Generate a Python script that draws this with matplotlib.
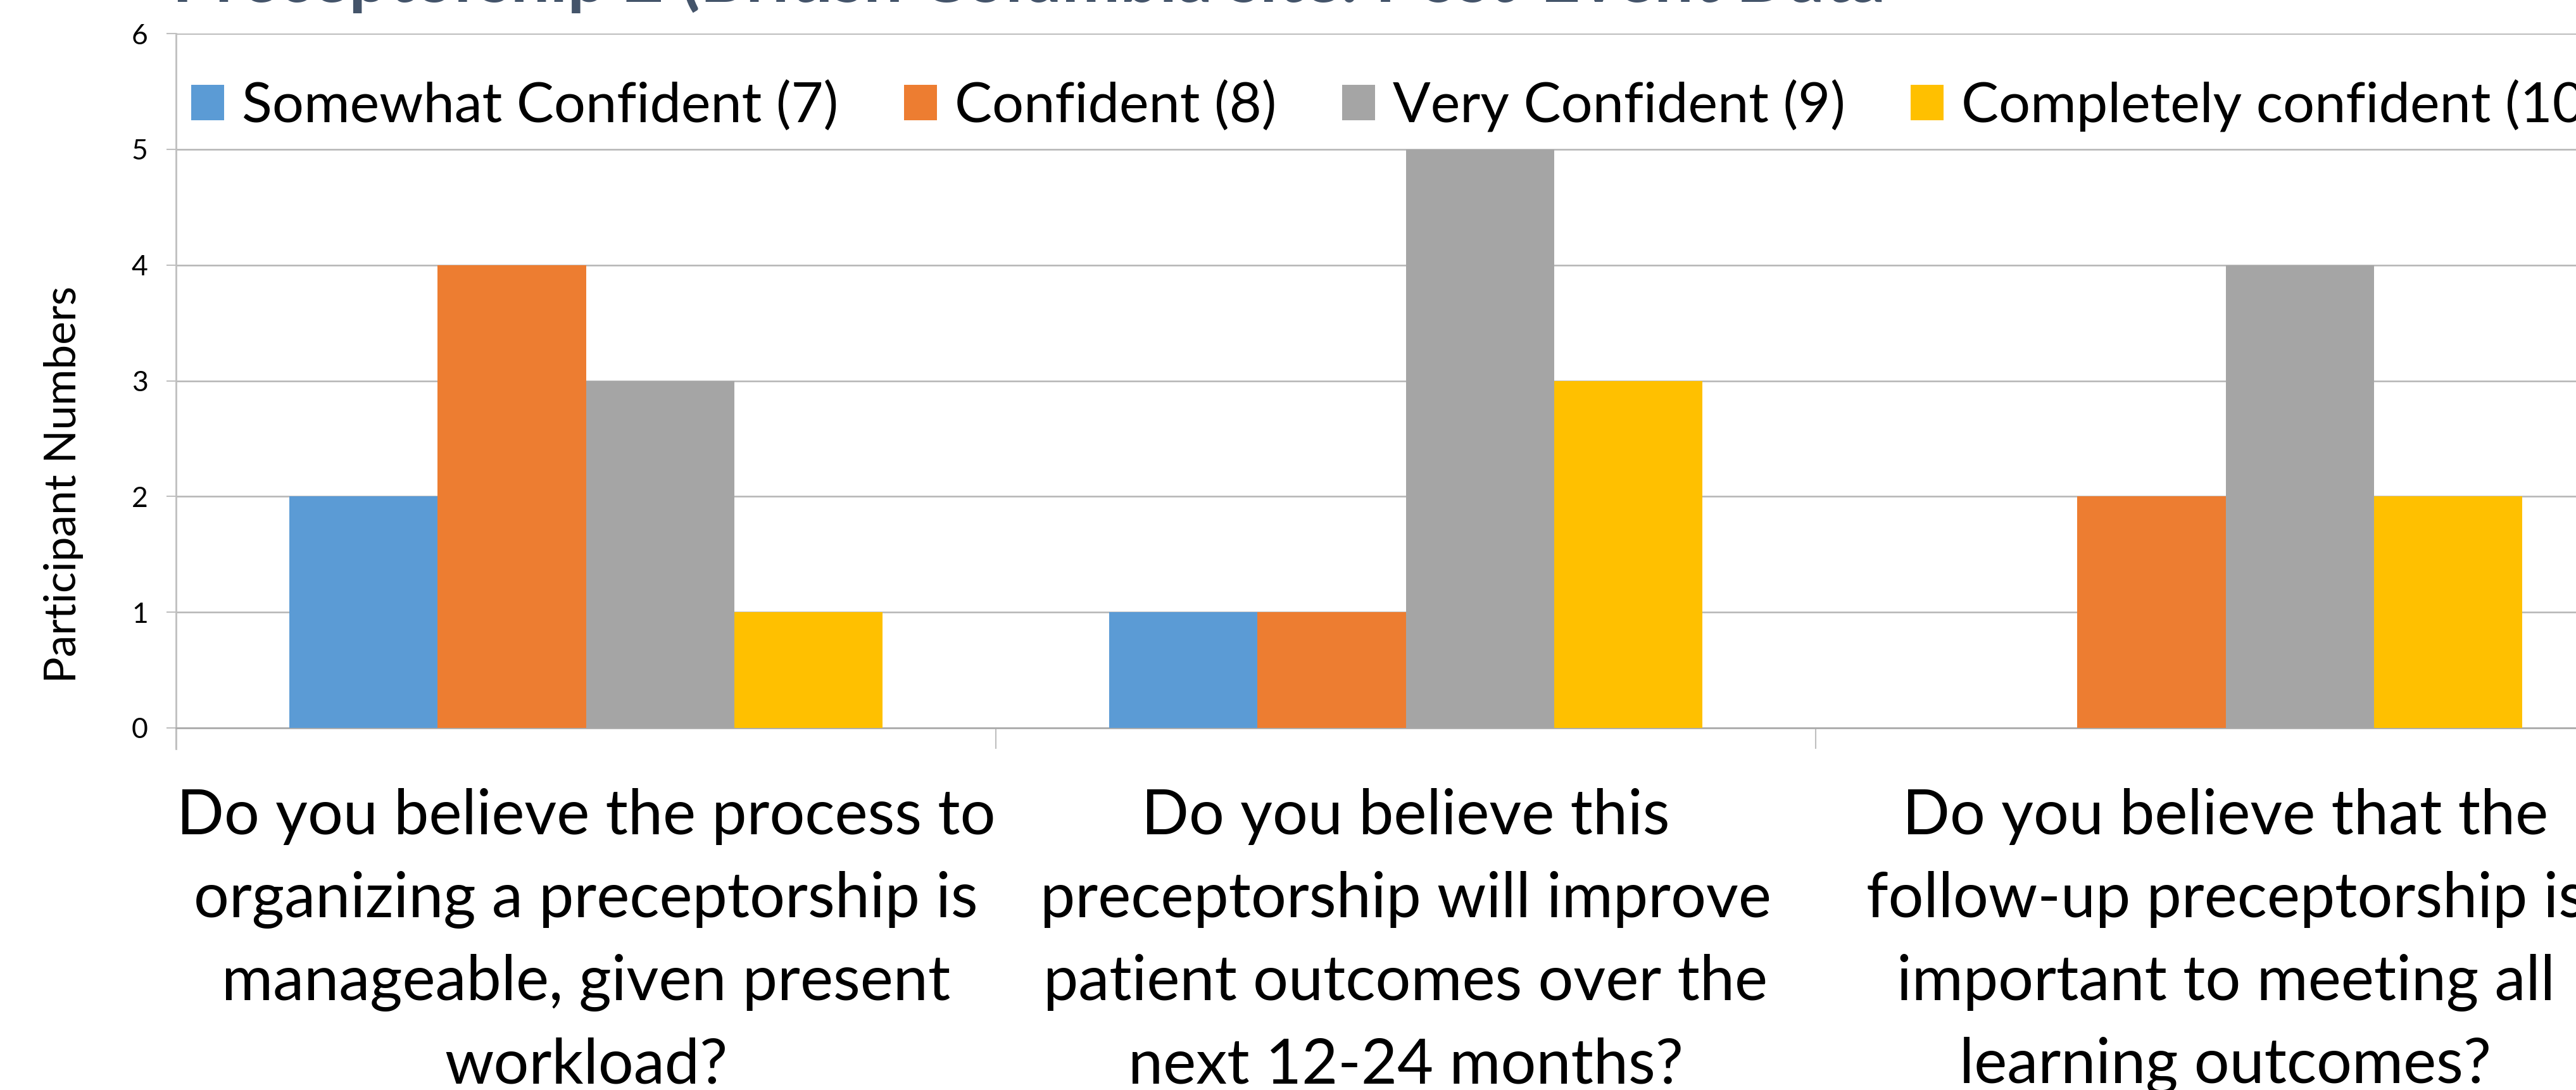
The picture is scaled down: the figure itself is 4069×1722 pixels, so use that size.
import matplotlib
matplotlib.use("Agg")
import matplotlib.pyplot as plt
import matplotlib.transforms as mtransforms
import numpy as np

plt.rcParams['font.family'] = ['Lato', 'DejaVu Sans']

title = "Preceptorship 2 (British Columbia site: Post-Event Data"
series = ["Somewhat Confident (7)", "Confident (8)", "Very Confident (9)", "Completely confident (10)"]
colors = ["#5B9BD5", "#ED7D31", "#A5A5A5", "#FFC000"]
questions = [
    ["Do you believe the process to", "organizing a preceptorship is",
     "manageable, given present", "workload?"],
    ["Do you believe this", "preceptorship will improve",
     "patient outcomes over the", "next 12-24 months?"],
    ["Do you believe that the", "follow-up preceptorship is",
     "important to meeting all", "learning outcomes?"],
]
somewhat = [2, 1, 0]
confident = [4, 1, 2]
very = [3, 5, 4]
completely = [1, 3, 2]
values = [somewhat, confident, very, completely]

W, H = 4069, 1722
fig = plt.figure(figsize=(W / 100, H / 100), dpi=100)
# plot area runs past the right edge of the picture, like the reference crop
ax = fig.add_axes([278 / W, (H - 1150) / H, 3885 / W, 1097 / H])

x = np.arange(len(questions))
bw = 0.181
for k, (name, vals, c) in enumerate(zip(series, values, colors)):
    ax.bar(x + (k - 1.5) * bw, vals, bw, color=c, label=name, zorder=3)

ax.set_xlim(-0.5, 2.5)
ax.set_ylim(0, 6)
ax.set_yticks(range(7))
ax.yaxis.grid(True, color="#B4B4B4", linewidth=1.8, zorder=0)
for s in ["top", "right"]:
    ax.spines[s].set_visible(False)
ax.spines["left"].set_color("#BFBFBF")
ax.spines["left"].set_linewidth(2)
ax.spines["bottom"].set_color("#ABABAB")
ax.spines["bottom"].set_linewidth(2)
ax.spines["left"].set_bounds(-0.18, 6)
ax.tick_params(axis="y", length=10.8, width=1.5, color="#BFBFBF", pad=21, labelsize=32)
ax.set_xticks([-0.5, 0.5, 1.5, 2.5])
ax.set_xticklabels([])
ax.tick_params(axis="x", length=24, width=1.5, color="#BFBFBF")

# question text, one line at a time under each group
tr = mtransforms.blended_transform_factory(ax.transData, fig.transFigure)
baselines = [1318, 1449, 1580, 1711]
for i, lines in enumerate(questions):
    for line, b in zip(lines, baselines):
        ax.text(i, 1 - b / H, line, transform=tr, ha="center", va="baseline",
                fontsize=71, clip_on=False)

fig.text(100 / W, 1 - 765 / H, "Participant Numbers", rotation=90,
         ha="center", va="center", fontsize=50)
fig.text(272 / W, 1 - 3 / H, title, ha="left", va="baseline",
         fontsize=79, fontweight="bold", color="#44546A")

ax.legend(loc="center left", bbox_to_anchor=(302 / W, 1 - 167 / H),
          bbox_transform=fig.transFigure, ncol=4, frameon=False, fontsize=63.5,
          handlelength=0.59, handleheight=0.59, handletextpad=0.32,
          columnspacing=1.17, borderpad=0, borderaxespad=0)

fig.savefig("out.png", dpi=100)
